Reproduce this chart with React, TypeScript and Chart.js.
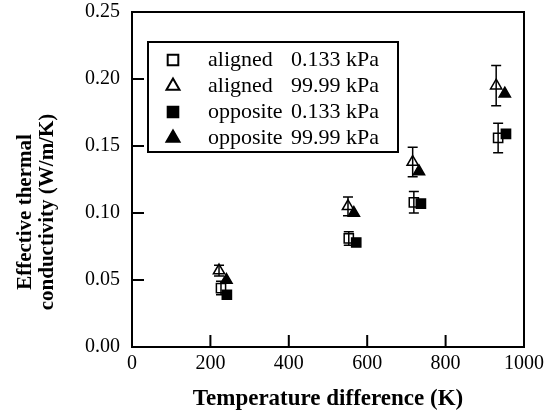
import React, { useEffect, useRef } from "react";
import { Chart, registerables } from "chart.js";

Chart.register(...registerables);

const xTicks = [0, 200, 400, 600, 800, 1000];
const yTicks = [0, 0.05, 0.1, 0.15, 0.2, 0.25];

const seriesLabels = ["aligned 0.133 kPa", "aligned 99.99 kPa", "opposite 0.133 kPa", "opposite 99.99 kPa"];

const xAligned133 = [227, 553, 719, 934];
const yAligned133 = [0.044, 0.081, 0.108, 0.156];
const errAligned133 = [0.005, 0.005, 0.008, 0.011];

const xAligned9999 = [222, 551, 716, 929];
const yAligned9999 = [0.057, 0.105, 0.138, 0.195];
const errAligned9999 = [0.004, 0.007, 0.011, 0.015];

const xOpposite133 = [242, 572, 737, 954];
const yOpposite133 = [0.039, 0.078, 0.107, 0.159];

const xOpposite9999 = [241, 566, 732, 951];
const yOpposite9999 = [0.05, 0.1, 0.131, 0.189];

const SERIF = "'Liberation Serif', 'Times New Roman', serif";

function pts(xs: number[], ys: number[]) {
  return xs.map((x, i) => ({ x, y: ys[i] }));
}

function drawMarker(ctx: CanvasRenderingContext2D, style: string, filled: boolean, r: number, x: number, y: number) {
  ctx.beginPath();
  if (style === "rect") {
    const s = r * Math.SQRT1_2;
    ctx.rect(x - s, y - s, 2 * s, 2 * s);
  } else {
    let rad = 0;
    ctx.moveTo(x + Math.sin(rad) * r, y - Math.cos(rad) * r);
    rad += (2 * Math.PI) / 3;
    ctx.lineTo(x + Math.sin(rad) * r, y - Math.cos(rad) * r);
    rad += (2 * Math.PI) / 3;
    ctx.lineTo(x + Math.sin(rad) * r, y - Math.cos(rad) * r);
    ctx.closePath();
  }
  if (filled) {
    ctx.fillStyle = "#000";
    ctx.fill();
  }
  ctx.strokeStyle = "#000";
  ctx.lineWidth = 2;
  ctx.stroke();
}

const framePlugin = {
  id: "frame",
  afterDatasetsDraw(chart: any) {
    const { ctx, chartArea, scales } = chart;
    const { left, right, top, bottom } = chartArea;
    ctx.save();
    ctx.strokeStyle = "#000";
    ctx.lineWidth = 2;
    ctx.strokeRect(left, top, right - left, bottom - top);
    // inward ticks
    const tl = 12;
    ctx.beginPath();
    xTicks.forEach((v) => {
      const px = scales.x.getPixelForValue(v);
      if (v === xTicks[0] || v === xTicks[xTicks.length - 1]) return;
      ctx.moveTo(px, bottom);
      ctx.lineTo(px, bottom - tl);
    });
    yTicks.forEach((v) => {
      const py = scales.y.getPixelForValue(v);
      if (v === yTicks[0] || v === yTicks[yTicks.length - 1]) return;
      ctx.moveTo(left, py);
      ctx.lineTo(left + tl, py);
    });
    ctx.stroke();

    // error bars
    const errs: { [k: number]: number[] } = { 0: errAligned133, 1: errAligned9999 };
    ctx.lineWidth = 1.5;
    Object.keys(errs).forEach((k) => {
      const di = Number(k);
      const ds = chart.data.datasets[di];
      const e = errs[di];
      ds.data.forEach((p: any, i: number) => {
        const px = scales.x.getPixelForValue(p.x);
        const py1 = scales.y.getPixelForValue(p.y + e[i]);
        const py2 = scales.y.getPixelForValue(p.y - e[i]);
        ctx.beginPath();
        ctx.moveTo(px, py1);
        ctx.lineTo(px, py2);
        ctx.moveTo(px - 5, py1);
        ctx.lineTo(px + 5, py1);
        ctx.moveTo(px - 5, py2);
        ctx.lineTo(px + 5, py2);
        ctx.stroke();
      });
    });

    // legend
    const bx = 148, by = 42, bw = 250, bh = 110;
    ctx.fillStyle = "#fff";
    ctx.fillRect(bx, by, bw, bh);
    ctx.lineWidth = 2;
    ctx.strokeStyle = "#000";
    ctx.strokeRect(bx, by, bw, bh);
    const rows = [60, 86, 112, 138];
    chart.data.datasets.forEach((ds: any, i: number) => {
      const y = rows[i];
      ctx.save();
      drawMarker(ctx, ds.pointStyle, ds.filled, ds.pointStyle === "rect" ? 7.5 : 7.5, 173, y);
      ctx.restore();
      ctx.fillStyle = "#000";
      ctx.font = `22px ${SERIF}`;
      ctx.textBaseline = "middle";
      ctx.textAlign = "left";
      const label: string = ds.label;
      const sp = label.indexOf(" ");
      ctx.fillText(label.slice(0, sp), 208, y);
      ctx.fillText(label.slice(sp + 1), 291, y);
    });

    // y title
    ctx.save();
    ctx.fillStyle = "#000";
    ctx.font = `bold 21px ${SERIF}`;
    ctx.textAlign = "center";
    ctx.textBaseline = "middle";
    ctx.translate(26, 212);
    ctx.rotate(-Math.PI / 2);
    ctx.fillText("Effective thermal", 0, 0);
    ctx.fillText("conductivity (W/m/K)", 0, 22);
    ctx.restore();

    ctx.restore();
  },
};

export default function App() {
  const ref = useRef<HTMLCanvasElement>(null);
  useEffect(() => {
    if (!ref.current) return;
    const mk = (label: string, data: any, style: string, filled: boolean, order: number) => ({
      label,
      data,
      filled,
      showLine: false,
      pointStyle: style,
      pointRadius: 6.5,
      pointBorderWidth: 1.5,
      pointBorderColor: "#000",
      pointBackgroundColor: filled ? "#000" : "rgba(255,255,255,0)",
      borderColor: "#000",
      backgroundColor: filled ? "#000" : "rgba(255,255,255,0)",
      order,
    });
    const chart = new Chart(ref.current, {
      type: "scatter",
      data: {
        datasets: [
          mk(seriesLabels[0], pts(xAligned133, yAligned133), "rect", false, 2),
          mk(seriesLabels[1], pts(xAligned9999, yAligned9999), "triangle", false, 2),
          mk(seriesLabels[2], pts(xOpposite133, yOpposite133), "rect", true, 1),
          mk(seriesLabels[3], pts(xOpposite9999, yOpposite9999), "triangle", true, 1),
        ],
      },
      options: {
        responsive: false,
        animation: false,
        layout: { padding: { left: 0, top: 12, right: 24, bottom: 0 } },
        plugins: { legend: { display: false }, tooltip: { enabled: false } },
        scales: {
          x: {
            type: "linear",
            min: 0,
            max: 1000,
            afterFit: (s: any) => {
              s.height = 66;
              s.paddingLeft = 0;
              s.paddingRight = 0;
            },
            afterBuildTicks: (s: any) => {
              s.ticks = xTicks.map((v) => ({ value: v }));
            },
            grid: { display: false, drawTicks: false },
            border: { display: false },
            ticks: {
              color: "#000",
              font: { family: SERIF, size: 20 },
              padding: 5,
              maxRotation: 0,
              callback: (v: any) => String(v),
            },
            title: {
              display: true,
              text: "Temperature difference (K)",
              color: "#000",
              font: { family: SERIF, size: 23, weight: "bold" },
              padding: { top: 4, bottom: 0 },
            },
          },
          y: {
            type: "linear",
            min: 0,
            max: 0.25,
            afterFit: (s: any) => {
              s.width = 132;
              s.paddingTop = 0;
              s.paddingBottom = 0;
            },
            afterBuildTicks: (s: any) => {
              s.ticks = yTicks.map((v) => ({ value: v }));
            },
            grid: { display: false, drawTicks: false },
            border: { display: false },
            ticks: {
              color: "#000",
              font: { family: SERIF, size: 20 },
              padding: 12,
              callback: (v: any) => Number(v).toFixed(2),
            },
          },
        },
      },
      plugins: [framePlugin],
    } as any);
    return () => chart.destroy();
  }, []);
  return (
    <div style={{ position: "absolute", left: 0, top: 0, width: 548, height: 413, background: "#fff" }}>
      <canvas ref={ref} width={548} height={413} />
    </div>
  );
}
